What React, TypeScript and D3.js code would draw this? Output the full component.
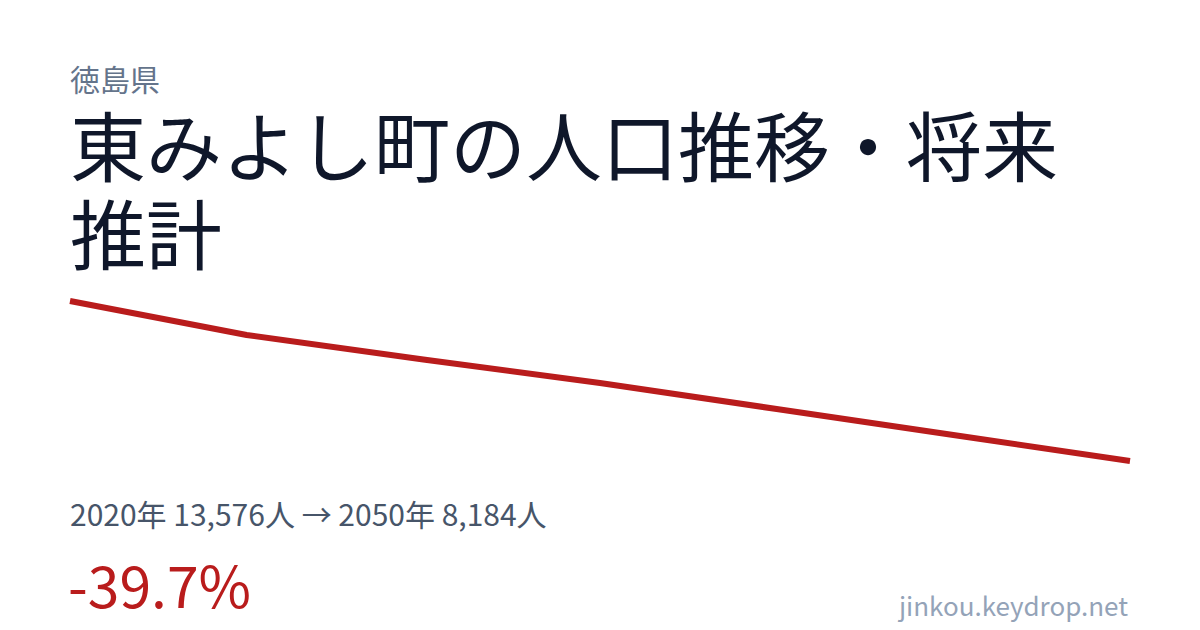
import React, { useRef, useEffect } from 'react';
import * as d3 from 'd3';

// population projection
const years = [2020, 2025, 2030, 2035, 2040, 2045, 2050];
const population = [13576, 12430, 11605, 10813, 9936, 9060, 8184];

const prefecture = '徳島県';
const titleLines = ['東みよし町の人口推移・将来', '推計'];
const site = 'jinkou.keydrop.net';

const W = 1200;
const H = 630;
const FONT = '"Noto Sans CJK JP", "Noto Sans", sans-serif';
const RED = '#b91c1c';

const fmt = d3.format(',');

export default function App() {
  const ref = useRef<SVGSVGElement>(null);

  useEffect(() => {
    if (!ref.current) return;
    const svg = d3.select(ref.current);
    svg.selectAll('*').remove();

    svg.append('rect').attr('width', W).attr('height', H).attr('fill', '#ffffff');

    const x = d3.scaleLinear().domain([years[0], years[years.length - 1]]).range([70, 1130]);
    const y = d3
      .scaleLinear()
      .domain([d3.min(population)!, d3.max(population)!])
      .range([461, 301]);

    svg
      .append('text')
      .attr('x', 70)
      .attr('y', 91)
      .attr('font-family', FONT)
      .attr('font-size', 30)
      .attr('fill', '#64748b')
      .text(prefecture);

    svg
      .selectAll('text.title')
      .data(titleLines)
      .enter()
      .append('text')
      .attr('class', 'title')
      .attr('x', 70)
      .attr('y', (d, i) => 176 + i * 88)
      .attr('font-family', FONT)
      .attr('font-size', 76)
      .attr('fill', '#0f172a')
      .text((d) => d);

    const line = d3
      .line<number>()
      .x((d, i) => x(years[i]))
      .y((d) => y(d));

    svg
      .append('path')
      .datum(population)
      .attr('d', line)
      .attr('fill', 'none')
      .attr('stroke', RED)
      .attr('stroke-width', 6)
      .attr('stroke-linejoin', 'round');

    const first = population[0];
    const last = population[population.length - 1];
    const change = ((last - first) / first) * 100;

    svg
      .append('text')
      .attr('x', 70)
      .attr('y', 526)
      .attr('font-family', FONT)
      .attr('font-size', 30)
      .attr('fill', '#475569')
      .text(`${years[0]}年 ${fmt(first)}人 → ${years[years.length - 1]}年 ${fmt(last)}人`);

    svg
      .append('text')
      .attr('x', 68)
      .attr('y', 608)
      .attr('font-family', FONT)
      .attr('font-size', 57)
      .attr('fill', RED)
      .text(`${change.toFixed(1)}%`);

    svg
      .append('text')
      .attr('x', 1128)
      .attr('y', 616)
      .attr('text-anchor', 'end')
      .attr('font-family', FONT)
      .attr('font-size', 26)
      .attr('fill', '#94a3b8')
      .text(site);
  }, []);

  return (
    <svg
      ref={ref}
      width={W}
      height={H}
      style={{ position: 'absolute', left: 0, top: 0, display: 'block' }}
    />
  );
}
